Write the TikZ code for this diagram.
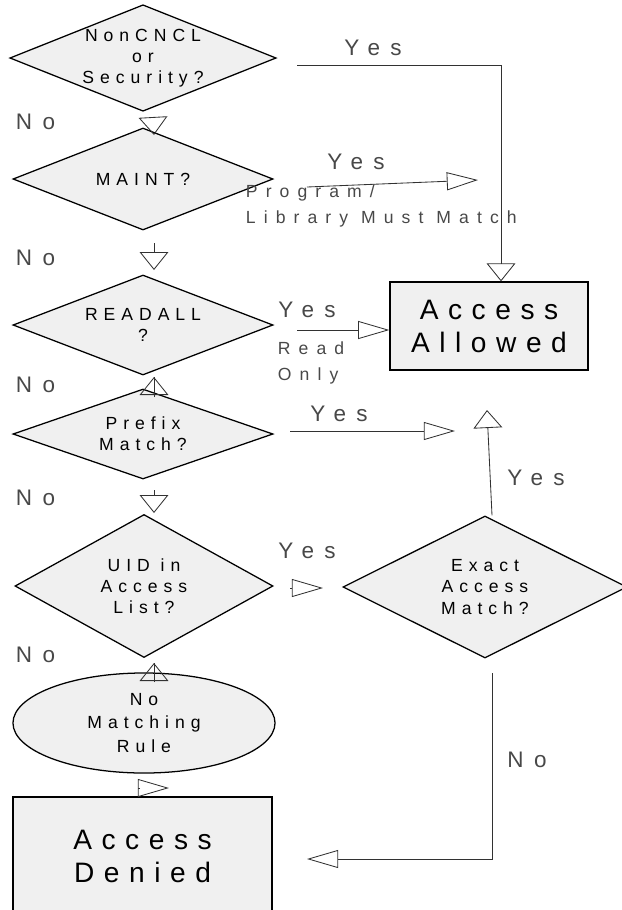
\documentclass[tikz,border=0pt]{standalone}
\usepackage{fontspec}
\setmainfont{Liberation Sans}[LetterSpace=34]
\newfontfamily\lblfont{Liberation Sans}[LetterSpace=46]
\usetikzlibrary{shapes.geometric,arrows.meta}
\definecolor{boxfill}{RGB}{240,240,240}
\definecolor{lblgray}{RGB}{72,72,72}
\definecolor{linegray}{RGB}{50,50,50}
\begin{document}
\begin{tikzpicture}[x=0.025cm,y=-0.025cm,
    decision/.style={diamond,draw,fill=boxfill,line width=0.9pt,inner sep=0pt,aspect=2.5,
      align=center,font=\fontsize{12.5}{15}\selectfont},
    terminal/.style={rectangle,draw,fill=boxfill,line width=0.9pt,align=center,
      font=\fontsize{20}{23.5}\selectfont},
    yn/.style={text=lblgray,font=\lblfont\fontsize{16}{19}\selectfont},
    note/.style={text=lblgray,align=left,anchor=west,font=\lblfont\fontsize{12.5}{19}\selectfont},
    varr/.style={draw=linegray,line width=0.6pt,-{Triangle[open,length=0.45cm,width=0.72cm]}},
    harr/.style={draw=linegray,line width=0.6pt,-{Triangle[open,length=0.78cm,width=0.45cm]}}]
      \useasboundingbox (0,0) rectangle (622,910);
      \node[decision,minimum width=6.45cm,minimum height=2.55cm] (noncncl) at (143,58) {NonCNCL\\or\\Security?};
      \node[decision,minimum width=6.5cm,minimum height=2.55cm] (maint) at (143,179) {MAINT?};
      \node[decision,minimum width=6.5cm,minimum height=2.5cm] (readall) at (143,325) {READALL\\?};
      \node[decision,minimum width=6.5cm,minimum height=2.25cm] (prefix) at (143,434) {Prefix\\Match?};
      \node[decision,minimum width=6.45cm,minimum height=3.575cm] (uid) at (144,586) {UID in\\Access\\List?};
      \node[decision,minimum width=7.1cm,minimum height=3.55cm] (exact) at (485,587) {Exact\\Access\\Match?};
      \node[ellipse,draw,fill=boxfill,line width=0.9pt,minimum width=6.55cm,minimum height=2.5cm,
        align=center,font=\fontsize{12.5}{16.4}\selectfont] (nomatch) at (144,723) {No\\Matching\\Rule};
      \node[terminal,minimum width=4.95cm,minimum height=2.2cm] (allowed) at (489,326) {Access\\Allowed};
      \node[terminal,minimum width=6.475cm,minimum height=2.975cm] (denied) at (142.5,856.5) {Access\\Denied};
      \node[yn,anchor=west] (no1) at (11,122) {No};
      \node[yn,anchor=west] (no2) at (11,258) {No};
      \node[yn,anchor=west] (no3) at (11,385) {No};
      \node[yn,anchor=west] (no4) at (11,498) {No};
      \node[yn,anchor=west] (no5) at (11,655) {No};
      \node[yn] (no6) at (527,760) {No};
      \node[yn] (yes1) at (373,48) {Yes};
      \node[yn] (yes2) at (356,162) {Yes};
      \node[yn] (yes3) at (307,310) {Yes};
      \node[yn] (yes4) at (339,414) {Yes};
      \node[yn] (yes5) at (307,551) {Yes};
      \node[yn] (yes6) at (536,478) {Yes};
      \node[note] (pgm) at (241,206) {Program/\\Library Must Match};
      \node[note] (ronly) at (273,363) {Read\\Only};
      \coordinate (t1) at (297,65);
      \coordinate (m1) at (307,187);
      \coordinate (m2) at (478,180);
      \coordinate (r1) at (297,330);
      \coordinate (p1) at (290,431);
      \coordinate (p2) at (455,431);
      \coordinate (e1) at (487,410);
      \coordinate (u1) at (290,588);
      \coordinate (u2) at (323,588);
      \coordinate (x1) at (492,673);
      \coordinate (x2) at (307,859);
      \coordinate (d1a) at (153,117);
      \coordinate (d1b) at (154,135);
      \coordinate (d2a) at (154,243);
      \coordinate (d2b) at (154,270);
      \coordinate (d3a) at (154,490);
      \coordinate (d3b) at (154,513);
      \coordinate (k1a) at (154,397);
      \coordinate (k1b) at (154,377);
      \coordinate (k2a) at (154,682);
      \coordinate (k2b) at (154,663);
      \coordinate (w1) at (140,788);
      \coordinate (w2) at (169,788);
      \draw[varr] (t1) -| ([shift={(12,0)}]allowed.north);
      \draw[harr] (m1) -- (m2);
      \draw[harr] (r1) -- (r1 -| allowed.west);
      \draw[harr] (p1) -- (p2);
      \draw[varr] (x1 |- exact.north) -- (e1);
      \draw[harr] (u1) -- (u2);
      \draw[harr] (x1) |- (x2);
      \draw[varr] (d1a) -- (d1b);
      \draw[varr] (d2a) -- (d2b);
      \draw[varr] (d3a) -- (d3b);
      \draw[varr,postaction={draw,arrows=-}] (k1a) -- (k1b);
      \draw[varr,postaction={draw,arrows=-}] (k2a) -- (k2b);
      \draw[harr] (w1) -- (w2);
    \end{tikzpicture}
\end{document}
